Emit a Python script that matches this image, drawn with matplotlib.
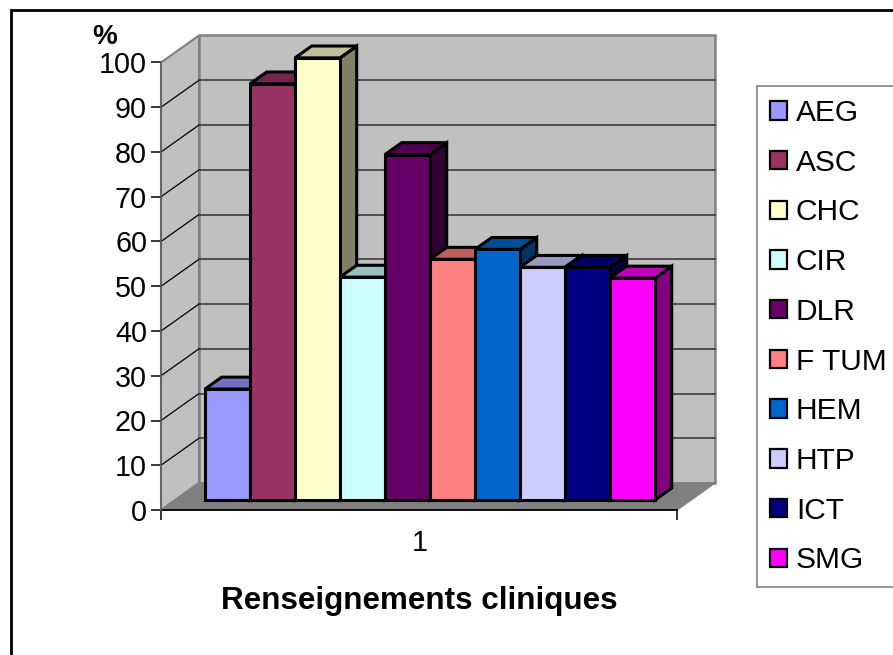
import matplotlib.pyplot as plt
from matplotlib.colors import to_rgb
from matplotlib.patches import Patch, Polygon

plt.rcParams["font.family"] = ["Liberation Sans", "DejaVu Sans"]

SERIES = ["AEG", "ASC", "CHC", "CIR", "DLR", "F TUM", "HEM", "HTP", "ICT", "SMG"]
VALUES = [24.8, 93.0, 98.8, 49.8, 77.2, 53.8, 56.0, 52.0, 52.0, 49.6]
COLORS = ["#9999FF", "#993366", "#FFFFCC", "#CCFFFF", "#660066",
          "#FF8080", "#0066CC", "#CCCCFF", "#000080", "#FF00FF"]
Y_TICKS = list(range(0, 101, 10))

W, H = 893, 655
# front plane of the box, in pixels
LEFT, RIGHT, BOTTOM, TOP = 161, 677, 510, 62.5
# full box depth expressed in data units
DEPTH_X = 38 / (RIGHT - LEFT)
DEPTH_Y = 27 / ((BOTTOM - TOP) / 100)
BAR_FRONT = 0.37
BAR_BACK = 0.81
BAR_START = 0.058
BAR_WIDTH = 45 / (RIGHT - LEFT)


def shade(color, factor):
    """Darken a colour for the faces that catch less light"""
    return tuple(c * factor for c in to_rgb(color))


def at_depth(x, y, depth):
    """Project a point of the front plane back into the box"""
    return (x + DEPTH_X * depth, y + DEPTH_Y * depth)


def face(ax, points, color, zorder, edge="black", lw=2.2):
    ax.add_patch(Polygon(points, closed=True, facecolor=color, edgecolor=edge,
                         linewidth=lw, joinstyle="miter", clip_on=False,
                         zorder=zorder))


def draw_box(ax):
    """Draw floor and walls with their gridlines"""
    face(ax, [(0, 0), at_depth(0, 0, 1), at_depth(0, 100, 1), (0, 100)],
         "#C0C0C0", 1, edge="#808080", lw=1.5)
    face(ax, [at_depth(0, 0, 1), at_depth(1, 0, 1), at_depth(1, 100, 1), at_depth(0, 100, 1)],
         "#C0C0C0", 1, edge="#808080", lw=1.8)
    face(ax, [(0, 0), (1, 0), at_depth(1, 0, 1), at_depth(0, 0, 1)],
         "#808080", 1.5, edge="#808080", lw=1)

    for tick in Y_TICKS[1:-1]:
        x1, y1 = at_depth(0, tick, 1)
        x2, y2 = at_depth(1, tick, 1)
        ax.plot([0, x1], [tick, y1], color="black", lw=0.9, clip_on=False, zorder=2)
        ax.plot([x1, x2], [y1, y2], color="#303030", lw=1.1, clip_on=False, zorder=2)

    ax.plot([0, 1], [0, 0], color="black", lw=1.3, clip_on=False, zorder=3)
    ax.plot([0, 0], [0, 100], color="#606060", lw=1.2, clip_on=False, zorder=3)


def draw_bars(ax):
    """Draw each series as a box, left to right so nearer faces overlap"""
    for i, (value, color) in enumerate(zip(VALUES, COLORS)):
        x0 = BAR_START + BAR_WIDTH * i
        x1 = x0 + BAR_WIDTH
        z = 5 + i
        front = [at_depth(x0, 0, BAR_FRONT), at_depth(x1, 0, BAR_FRONT),
                 at_depth(x1, value, BAR_FRONT), at_depth(x0, value, BAR_FRONT)]
        top = [at_depth(x0, value, BAR_FRONT), at_depth(x1, value, BAR_FRONT),
               at_depth(x1, value, BAR_BACK), at_depth(x0, value, BAR_BACK)]
        side = [at_depth(x1, 0, BAR_FRONT), at_depth(x1, 0, BAR_BACK),
                at_depth(x1, value, BAR_BACK), at_depth(x1, value, BAR_FRONT)]
        face(ax, side, shade(color, 0.5), z)
        face(ax, top, shade(color, 0.75), z)
        face(ax, front, color, z)


def main():
    fig = plt.figure(figsize=(W / 100, H / 100), dpi=100)
    ax = fig.add_axes([LEFT / W, 1 - BOTTOM / H, (RIGHT - LEFT) / W, (BOTTOM - TOP) / H])
    ax.set_xlim(0, 1)
    ax.set_ylim(0, 100)
    ax.patch.set_visible(False)
    for spine in ax.spines.values():
        spine.set_visible(False)

    draw_box(ax)
    draw_bars(ax)

    ax.set_yticks(Y_TICKS)
    ax.tick_params(axis="y", labelsize=20.7, length=7, width=1.1, pad=3, color="black")
    ax.set_xticks([0, 1])
    ax.set_xticklabels(["", ""])
    ax.tick_params(axis="x", length=7, width=1.1, color="black")
    ax.text(0.502, -7.4, "1", ha="center", va="center", fontsize=20.7)
    ax.text(0.5, -20.4, "Renseignements cliniques", ha="center", va="center",
            fontsize=22.6, fontweight="bold")
    ax.text(-0.134, 105.8, "%", ha="left", va="center", fontsize=20, fontweight="bold")

    # outer chart frame, running off the canvas on the right and bottom
    fig.add_artist(plt.Rectangle((11 / W, -0.05), 1, 1 - 10 / H + 0.05, fill=False,
                                 edgecolor="black", linewidth=2,
                                 transform=fig.transFigure))

    handles = [Patch(facecolor=c, edgecolor="black", linewidth=1.6) for c in COLORS]
    legend = fig.legend(handles, SERIES, loc="upper left",
                        bbox_to_anchor=(757 / W, 1 - 86 / H), borderaxespad=0,
                        fontsize=21.5, frameon=True, fancybox=False, edgecolor="#808080",
                        framealpha=1, labelspacing=0.726, handlelength=0.57,
                        handleheight=0.57, handletextpad=0.29, borderpad=0.44)
    legend.get_frame().set_linewidth(1.2)

    fig.savefig("out.png", dpi=100)


if __name__ == "__main__":
    main()
